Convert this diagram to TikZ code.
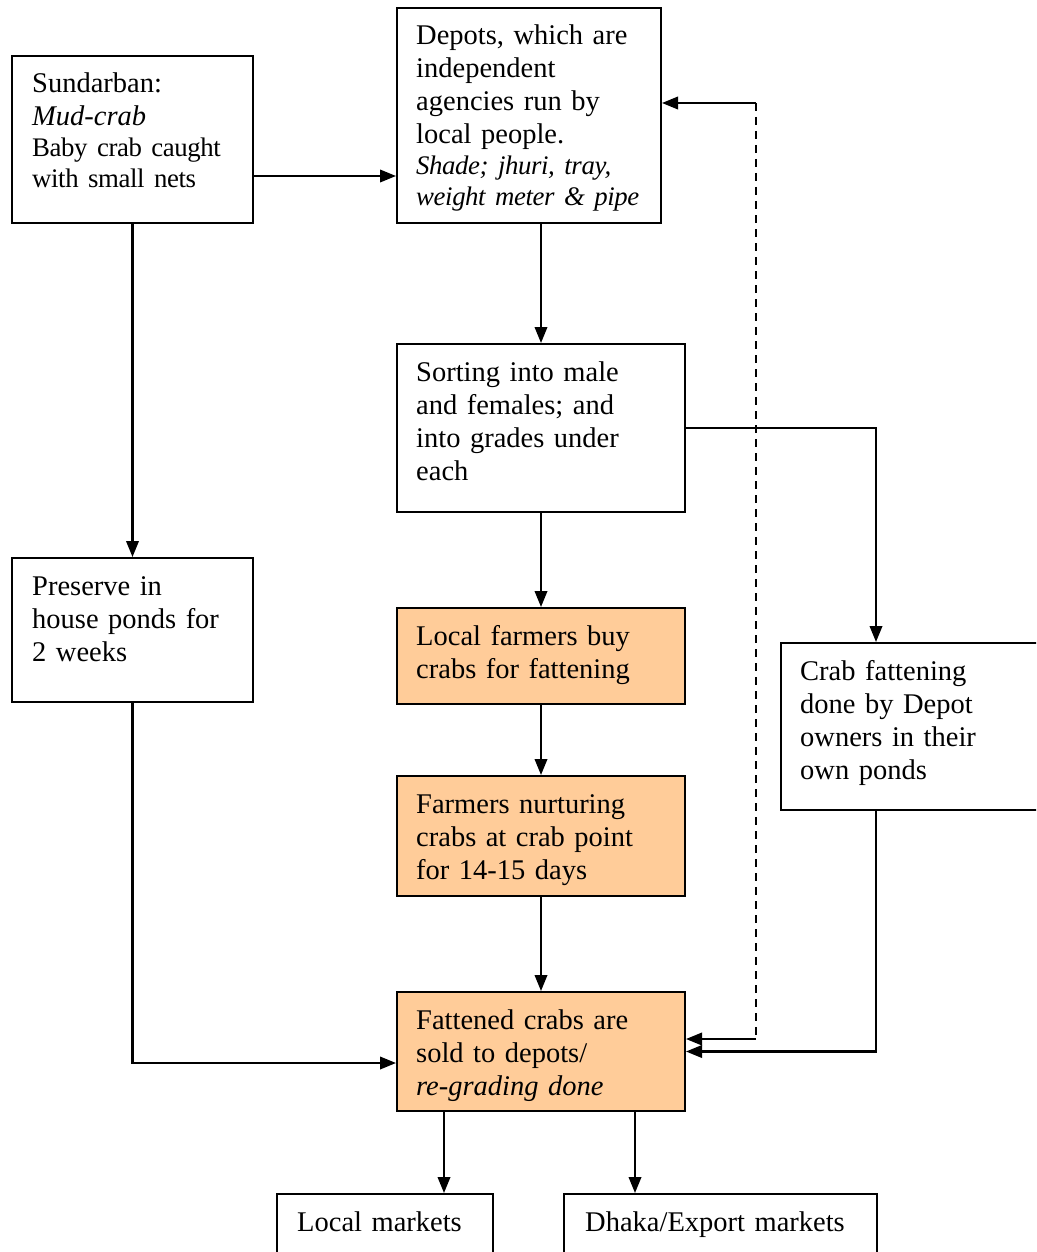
\documentclass[tikz,border=0pt]{standalone}
\usepackage{fontspec}
\setmainfont{Liberation Serif}
\usetikzlibrary{arrows.meta,calc}
\definecolor{boxorange}{RGB}{255,204,153}
\newcommand{\smallfs}{\fontsize{26.8}{31}\selectfont\addfontfeatures{LetterSpace=-1.5}}
\tikzset{
  box/.style={draw=black, line width=2pt, rectangle, inner sep=0pt, anchor=north west},
  obox/.style={box, fill=boxorange},
  txt/.style={anchor=base west, inner sep=0pt, text width=320pt, align=left,
              font=\fontsize{28.5}{33}\selectfont},
  arr/.style={line width=2.1pt, -{Triangle[length=16pt,width=12.5pt]}},
  dline/.style={line width=2.1pt, dash pattern=on 8pt off 6pt},
}
\begin{document}
\begin{tikzpicture}[x=1pt,y=-1pt]
\useasboundingbox (0,0) rectangle (1036,1252);
\clip (0,0) rectangle (1036,1252);
% boxes
\node[box, minimum width=241pt, minimum height=167pt] (sund) at (11,55) {};
\node[box, minimum width=264pt, minimum height=215pt] (depot) at (396,7) {};
\node[box, minimum width=288pt, minimum height=168pt] (sort) at (396,343) {};
\node[obox, minimum width=288pt, minimum height=96pt] (local) at (396,607) {};
\node[obox, minimum width=288pt, minimum height=120pt] (nurt) at (396,775) {};
\node[obox, minimum width=288pt, minimum height=119pt] (fatt) at (396,991) {};
\node[box, minimum width=241pt, minimum height=144pt] (pres) at (11,557) {};
\node[box, minimum width=280pt, minimum height=167pt] (crabf) at (780,642) {};
\node[box, minimum width=216pt, minimum height=80pt] (lmk) at (276,1193) {};
\node[box, minimum width=313pt, minimum height=80pt] (dmk) at (563,1193) {};
% texts
\node[txt] (tsund) at ($(sund.north west)+(21,38)$) {Sundarban:\par\textit{Mud-crab}\par{\smallfs Baby crab caught\par with small nets\par}};
\node[txt] (tdepot) at ($(depot.north west)+(20,38)$) {Depots, which are\par independent\par agencies run by\par local people.\par{\smallfs\itshape Shade; jhuri, tray,\par weight meter \& pipe\par}};
\node[txt] (tsort) at ($(sort.north west)+(20,38)$) {Sorting into male\\and females; and\\into grades under\\each};
\node[txt] (tlocal) at ($(local.north west)+(20,38)$) {Local farmers buy\\crabs for fattening};
\node[txt] (tnurt) at ($(nurt.north west)+(20,38)$) {Farmers nurturing\\crabs at crab point\\for 14-15 days};
\node[txt] (tfatt) at ($(fatt.north west)+(20,38)$) {Fattened crabs are\\sold to depots/\\\textit{re-grading done}};
\node[txt] (tpres) at ($(pres.north west)+(21,38)$) {Preserve in\\house ponds for\\2 weeks};
\node[txt] (tcrabf) at ($(crabf.north west)+(20,38)$) {Crab fattening\\done by Depot\\owners in their\\own ponds};
\node[txt] (tlmk) at ($(lmk.north west)+(21,38)$) {Local markets};
\node[txt] (tdmk) at ($(dmk.north west)+(22,38)$) {Dhaka/Export markets};
% helper coordinates
\coordinate (cx) at (876,0);
\coordinate (lx) at (444,0);
\coordinate (dx) at (635,0);
\coordinate (dtop) at (756,103);
\coordinate (dbot) at (756,1039);
% connectors
\draw[arr] ([yshift=-36.5pt]sund.east) coordinate (a1) -- (a1 -| depot.west);
\draw[arr] (sund.south) -- (pres.north);
\draw[arr] (sort.north |- depot.south) -- (sort.north);
\draw[arr] (sort.south) -- (local.north);
\draw[arr] (local.south) -- (nurt.north);
\draw[arr] (nurt.south) -- (fatt.north);
\draw[arr] (sort.east) -| (cx |- crabf.north);
\draw[arr] (cx |- crabf.south) |- (fatt.east);
\draw[dline] (dtop) -- (dbot);
\draw[arr] (dtop) -- (dtop -| depot.east);
\draw[arr] (dbot) -- (dbot -| fatt.east);
\draw[arr] (pres.south) |- ([yshift=-11.5pt]fatt.west);
\draw[arr] (lx |- fatt.south) -- (lx |- lmk.north);
\draw[arr] (dx |- fatt.south) -- (dx |- dmk.north);
\end{tikzpicture}
\end{document}
